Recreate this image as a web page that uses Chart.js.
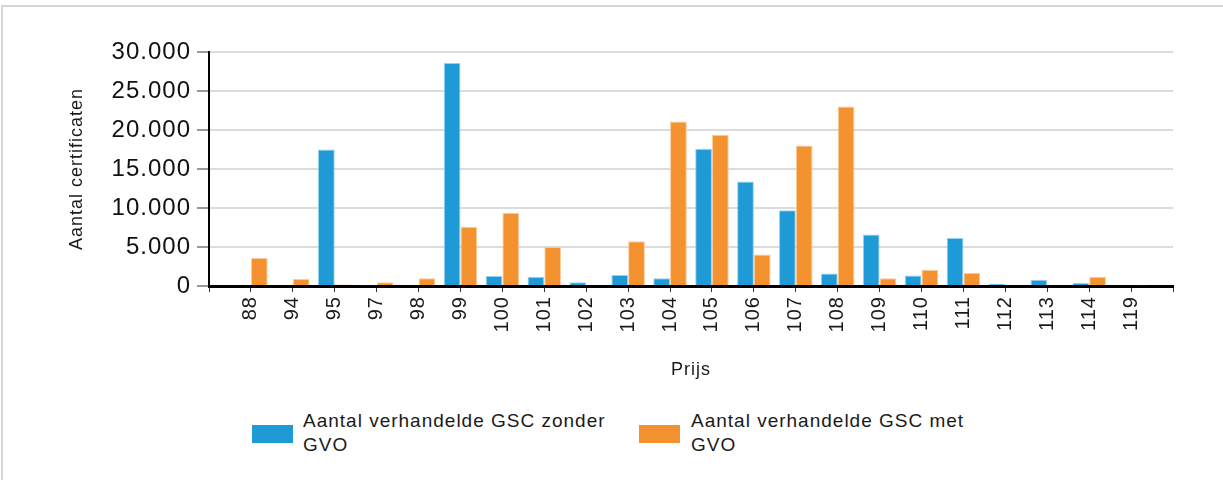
<!DOCTYPE html>
<html>
<head>
<meta charset="utf-8">
<script src="https://cdn.jsdelivr.net/npm/chart.js@4.4.0/dist/chart.umd.min.js"></script>
<style>
  html, body { margin: 0; padding: 0; background: #fff; }
  body { width: 1223px; height: 480px; overflow: hidden; position: relative; font-family: "Liberation Sans", Arial, sans-serif; }
  #frame { position: absolute; left: 1px; top: 5px; width: 1240px; height: 500px; border: 2px solid #d6d6d6; box-sizing: border-box; }
  #wrap { position: absolute; left: 0; top: 0; width: 1223px; height: 400px; }
  .leg { position: absolute; top: 409px; font-size: 19px; line-height: 24px; letter-spacing: 1px; color: #1a1a1a; }
  .box { position: absolute; width: 41px; height: 18px; top: 16px; }
  .txt { position: absolute; white-space: nowrap; }
</style>
</head>
<body>
<div id="frame"></div>
<div id="wrap"><canvas id="myChart"></canvas></div>
<div class="leg" style="left:252px"><div class="box" style="background:#1e9ad6"></div><div class="txt" style="left:51px">Aantal verhandelde GSC zonder<br>GVO</div></div>
<div class="leg" style="left:639px"><div class="box" style="background:#f4922f"></div><div class="txt" style="left:52px">Aantal verhandelde GSC met<br>GVO</div></div>
<script>
var prijzen = ['88', '94', '95', '97', '98', '99', '100', '101', '102', '103', '104', '105', '106', '107', '108', '109', '110', '111', '112', '113', '114', '119'];
var zonderGVO = [0, 0, 17500, 100, 0, 28600, 1300, 1200, 500, 1400, 1000, 17600, 13400, 9700, 1600, 6600, 1350, 6150, 250, 800, 400, 0];
var metGVO = [3600, 900, 200, 500, 1000, 7600, 9400, 5000, 0, 5750, 21100, 19400, 4050, 18000, 23000, 1000, 2100, 1700, 0, 0, 1200, 100];

function fmt(v) {
    return v.toString().replace(/\B(?=(\d{3})+(?!\d))/g, '.');
}

// the axis has an empty slot at both ends
var labels = [''].concat(prijzen).concat(['']);
var serieZonder = [null].concat(zonderGVO).concat([null]);
var serieMet = [null].concat(metGVO).concat([null]);

// slightly wider text, like the original rendering
var spacing = {
    id: 'spacing',
    afterInit: function (chart) { chart.ctx.letterSpacing = '1px'; },
    beforeUpdate: function (chart) { chart.ctx.letterSpacing = '1px'; },
    beforeDraw: function (chart) { chart.ctx.letterSpacing = '1px'; }
};

var ctx = document.getElementById('myChart');
var myChart = new Chart(ctx, {
    type: 'bar',
    plugins: [spacing],
    data: {
        labels: labels,
        datasets: [{
            label: 'Aantal verhandelde GSC zonder GVO',
            data: serieZonder,
            backgroundColor: '#1e9ad6',
            borderColor: 'rgba(140,205,240,0.9)',
            borderWidth: 1
        }, {
            label: 'Aantal verhandelde GSC met GVO',
            data: serieMet,
            backgroundColor: '#f4922f',
            borderColor: 'rgba(250,200,150,0.9)',
            borderWidth: 1
        }]
    },
    options: {
        responsive: true,
        maintainAspectRatio: false,
        animation: false,
        layout: { padding: { left: 62, right: 50, top: 52, bottom: 15 } },
        datasets: { bar: { barPercentage: 1, categoryPercentage: 0.8 } },
        plugins: {
            legend: { display: false },
            tooltip: { enabled: false }
        },
        scales: {
            x: {
                offset: false,
                grid: { display: true, offset: false, drawOnChartArea: false, drawTicks: true, tickLength: 6, color: '#333', lineWidth: 1 },
                border: { display: true, color: '#000', width: 3 },
                ticks: { color: '#1a1a1a', font: { family: 'Liberation Sans', size: 20 }, minRotation: 90, maxRotation: 90, autoSkip: false, padding: 4 },
                title: { display: true, text: 'Prijs', color: '#1a1a1a', font: { family: 'Liberation Sans', size: 18 }, padding: { top: 23 } }
            },
            y: {
                min: 0,
                max: 30000,
                grid: { color: '#dcdcdc', lineWidth: 2, tickColor: '#333', tickLength: 12, tickWidth: 1 },
                border: { display: true, color: '#000', width: 2 },
                ticks: { stepSize: 5000, color: '#111', font: { family: 'Liberation Sans', size: 24 }, padding: 6, callback: function (v) { return fmt(v); } },
                title: { display: true, text: 'Aantal certificaten', color: '#1a1a1a', font: { family: 'Liberation Sans', size: 18 }, padding: { bottom: 18 } }
            }
        }
    }
});
</script>
</body>
</html>
